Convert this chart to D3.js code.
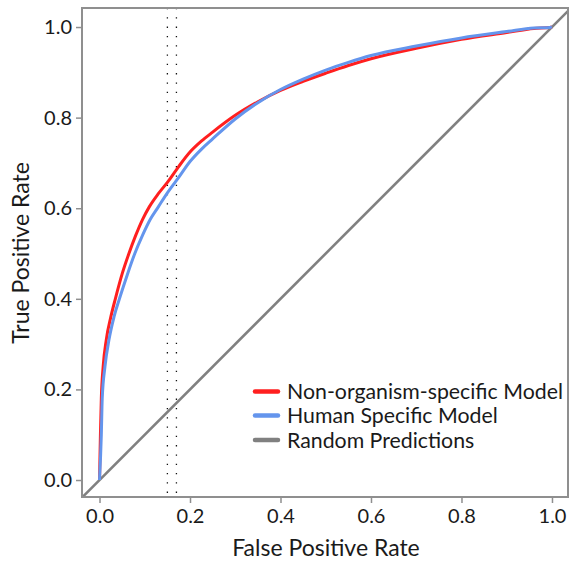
<!DOCTYPE html>
<html>
<head>
<meta charset="utf-8">
<script src="https://cdnjs.cloudflare.com/ajax/libs/d3/7.8.5/d3.min.js"></script>
<style>
  html, body { margin: 0; padding: 0; background: #fff; }
  svg { display: block; }
  text { font-family: Lato, "Open Sans", sans-serif; fill: #1a1a1a; }
</style>
</head>
<body>
<svg id="chart" width="571" height="561"></svg>
<script>
// ---- data ----
const redFpr = [0, 0.002, 0.004, 0.008, 0.015, 0.025, 0.035, 0.05, 0.065, 0.08, 0.095, 0.11, 0.13, 0.15, 0.175, 0.2, 0.225, 0.25, 0.3, 0.35, 0.4, 0.45, 0.5, 0.55, 0.6, 0.7, 0.8, 0.9, 0.96, 0.995, 1.0];
const redTpr = [0, 0.1, 0.18, 0.25, 0.31, 0.36, 0.40, 0.455, 0.50, 0.54, 0.575, 0.603, 0.632, 0.657, 0.692, 0.724, 0.748, 0.768, 0.805, 0.835, 0.86, 0.88, 0.898, 0.915, 0.93, 0.953, 0.973, 0.988, 0.997, 0.999, 1.0];
const blueFpr = [0, 0.004, 0.006, 0.012, 0.021, 0.032, 0.044, 0.062, 0.078, 0.095, 0.112, 0.13, 0.15, 0.175, 0.2, 0.225, 0.25, 0.3, 0.35, 0.4, 0.45, 0.5, 0.55, 0.6, 0.7, 0.8, 0.9, 0.96, 0.995, 1.0];
const blueTpr = [0, 0.1, 0.18, 0.25, 0.31, 0.36, 0.40, 0.455, 0.50, 0.54, 0.575, 0.603, 0.634, 0.668, 0.703, 0.73, 0.753, 0.797, 0.833, 0.862, 0.885, 0.905, 0.922, 0.937, 0.958, 0.976, 0.99, 0.998, 0.999, 1.0];
const randomLine = [-0.05, 1.05];
const thresholdLines = [0.15, 0.17];
const xTicks = [0.0, 0.2, 0.4, 0.6, 0.8, 1.0];
const yTicks = [0.0, 0.2, 0.4, 0.6, 0.8, 1.0];
const seriesNames = ["Non-organism-specific Model", "Human Specific Model", "Random Predictions"];
const seriesColors = ["#ff1f1f", "#6495ed", "#808080"];

// ---- layout ----
const svg = d3.select("#chart");
const x = d3.scaleLinear().domain([-0.0387, 1.0354]).range([82, 568]);
const y = d3.scaleLinear().domain([-0.0375, 1.042]).range([497, 8]);
const frameColor = "#8f8f8f";

svg.append("defs").append("clipPath").attr("id", "clip")
  .append("rect").attr("x", 82).attr("y", 8).attr("width", 486).attr("height", 489);

const plot = svg.append("g").attr("clip-path", "url(#clip)");

// dotted threshold lines
plot.selectAll("line.thr").data(thresholdLines).enter().append("line")
  .attr("class", "thr")
  .attr("x1", d => x(d)).attr("x2", d => x(d))
  .attr("y1", 8).attr("y2", 497)
  .attr("stroke", "#111").attr("stroke-width", 1.3)
  .attr("stroke-dasharray", "1.3,8");

// random diagonal
plot.append("line")
  .attr("x1", x(randomLine[0])).attr("y1", y(randomLine[0]))
  .attr("x2", x(randomLine[1])).attr("y2", y(randomLine[1]))
  .attr("stroke", seriesColors[2]).attr("stroke-width", 2.6);

const line = d3.line().x(d => x(d[0])).y(d => y(d[1])).curve(d3.curveMonotoneX);

plot.append("path").datum(redFpr.map((v, i) => [v, redTpr[i]]))
  .attr("d", line).attr("fill", "none")
  .attr("stroke", seriesColors[0]).attr("stroke-width", 3);

plot.append("path").datum(blueFpr.map((v, i) => [v, blueTpr[i]]))
  .attr("d", line).attr("fill", "none")
  .attr("stroke", seriesColors[1]).attr("stroke-width", 3);

// axes
const xAxis = svg.append("g").attr("transform", "translate(0,497)")
  .call(d3.axisBottom(x).tickValues(xTicks).tickFormat(d3.format(".1f")).tickSize(6).tickPadding(6));
const yAxis = svg.append("g").attr("transform", "translate(82,0)")
  .call(d3.axisLeft(y).tickValues(yTicks).tickFormat(d3.format(".1f")).tickSize(6).tickPadding(4));
[xAxis, yAxis].forEach(a => {
  a.select(".domain").remove();
  a.selectAll(".tick line").attr("stroke", frameColor).attr("stroke-width", 1.5);
  a.selectAll(".tick text").style("font-family", "Lato, 'Open Sans', sans-serif")
    .style("font-size", "20px").attr("fill", "#1a1a1a");
});

// frame
svg.append("rect").attr("x", 82).attr("y", 8).attr("width", 486).attr("height", 489)
  .attr("fill", "none").attr("stroke", frameColor).attr("stroke-width", 2);

// axis titles
svg.append("text").attr("x", 326).attr("y", 556).attr("text-anchor", "middle")
  .style("font-size", "23px").text("False Positive Rate");
svg.append("text").attr("transform", "translate(29,253) rotate(-90)").attr("text-anchor", "middle")
  .style("font-size", "23px").text("True Positive Rate");

// legend
const legend = svg.append("g");
const legY = [391.5, 415.5, 440];
seriesNames.forEach((name, i) => {
  legend.append("line").attr("x1", 255).attr("x2", 278).attr("y1", legY[i]).attr("y2", legY[i])
    .attr("stroke", seriesColors[i]).attr("stroke-width", 4.5).attr("stroke-linecap", "round");
  legend.append("text").attr("x", 287).attr("y", legY[i] + 7.5)
    .style("font-size", "21.3px").text(name);
});
</script>
</body>
</html>
